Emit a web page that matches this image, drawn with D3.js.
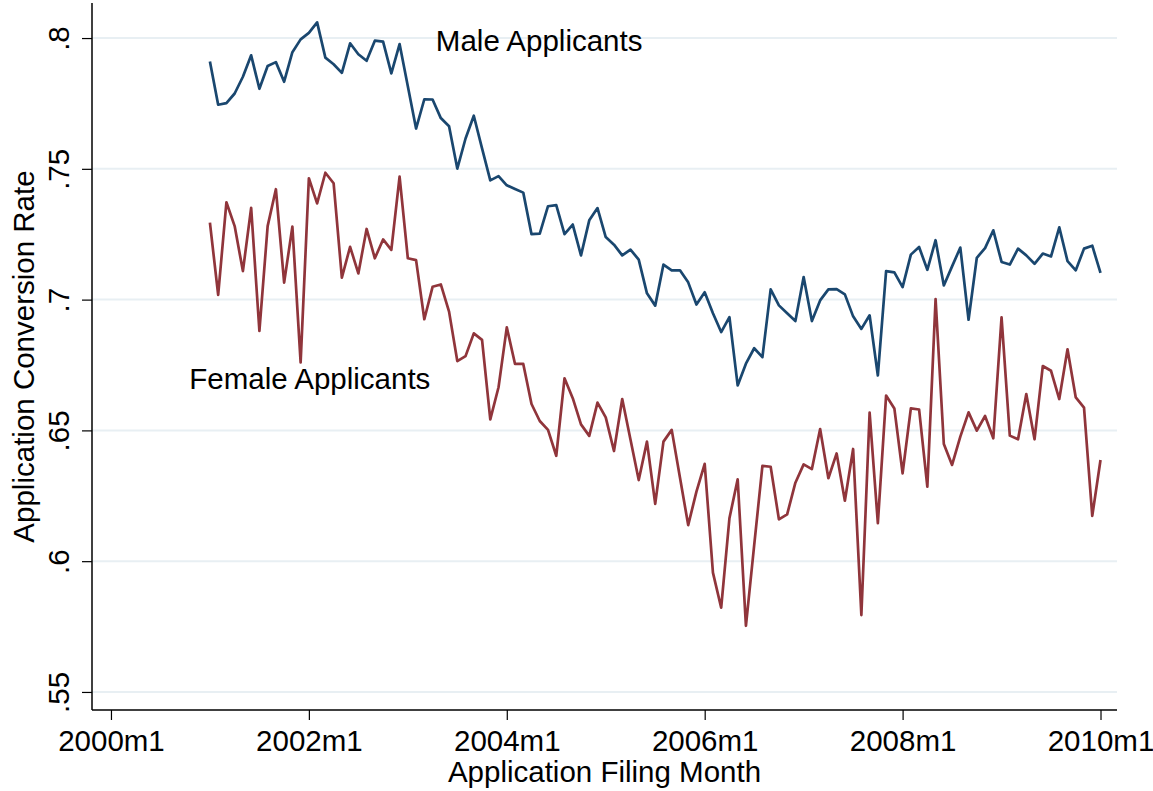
<!DOCTYPE html>
<html>
<head>
<meta charset="utf-8">
<script src="https://cdn.jsdelivr.net/npm/d3@7"></script>
<style>
  html, body { margin: 0; padding: 0; background: #fff; }
  svg { display: block; font-family: "Liberation Sans", Arial, Helvetica, sans-serif; }
</style>
</head>
<body>
<svg id="chart" width="1153" height="791"></svg>
<script>
// ---- data (monthly, 2001m1 .. 2010m1) ----
const firstMonthLabel = "2001m1";
const maleRate = [
  0.7910, 0.7745, 0.7751, 0.7788, 0.7852, 0.7934, 0.7806, 0.7893, 0.7908, 0.7833, 0.7946, 0.7995,
  0.8020, 0.8060, 0.7925, 0.7900, 0.7867, 0.7980, 0.7938, 0.7913, 0.7990, 0.7986, 0.7865, 0.7977,
  0.7816, 0.7654, 0.7766, 0.7765, 0.7694, 0.7663, 0.7501, 0.7616, 0.7703, 0.7578, 0.7456, 0.7472,
  0.7437, 0.7423, 0.7409, 0.7250, 0.7252, 0.7357, 0.7361, 0.7250, 0.7287, 0.7169, 0.7303, 0.7350,
  0.7239, 0.7210, 0.7169, 0.7191, 0.7153, 0.7024, 0.6977, 0.7134, 0.7112, 0.7112, 0.7066, 0.6981,
  0.7028, 0.6948, 0.6876, 0.6933, 0.6672, 0.6755, 0.6814, 0.6780, 0.7039, 0.6978, 0.6948, 0.6918,
  0.7086, 0.6918, 0.6997, 0.7039, 0.7040, 0.7020, 0.6936, 0.6888, 0.6940, 0.6710, 0.7109, 0.7104,
  0.7048, 0.7172, 0.7201, 0.7114, 0.7227, 0.7054, 0.7127, 0.7199, 0.6923, 0.7160, 0.7197, 0.7265,
  0.7144, 0.7134, 0.7195, 0.7169, 0.7137, 0.7176, 0.7165, 0.7276, 0.7147, 0.7112, 0.7195, 0.7206,
  0.7102
];
const femaleRate = [
  0.7294, 0.7018, 0.7372, 0.7281, 0.7109, 0.7351, 0.6880, 0.7281, 0.7422, 0.7065, 0.7279, 0.6760,
  0.7464, 0.7368, 0.7485, 0.7445, 0.7084, 0.7202, 0.7100, 0.7270, 0.7158, 0.7230, 0.7190, 0.7470,
  0.7158, 0.7151, 0.6925, 0.7049, 0.7058, 0.6954, 0.6765, 0.6784, 0.6871, 0.6846, 0.6542, 0.6665,
  0.6894, 0.6754, 0.6754, 0.6601, 0.6536, 0.6502, 0.6403, 0.6699, 0.6623, 0.6523, 0.6479, 0.6606,
  0.6550, 0.6421, 0.6620, 0.6465, 0.6310, 0.6457, 0.6219, 0.6457, 0.6502, 0.6320, 0.6138, 0.6266,
  0.6372, 0.5956, 0.5822, 0.6164, 0.6313, 0.5753, 0.6060, 0.6364, 0.6361, 0.6160, 0.6179, 0.6300,
  0.6370, 0.6352, 0.6505, 0.6317, 0.6412, 0.6231, 0.6429, 0.5794, 0.6568, 0.6145, 0.6633, 0.6584,
  0.6336, 0.6584, 0.6580, 0.6285, 0.7002, 0.6448, 0.6368, 0.6476, 0.6569, 0.6499, 0.6555, 0.6470,
  0.6932, 0.6480, 0.6466, 0.6639, 0.6466, 0.6746, 0.6728, 0.6620, 0.6810, 0.6626, 0.6587, 0.6173,
  0.6387
];
const xTickLabels = ["2000m1", "2002m1", "2004m1", "2006m1", "2008m1", "2010m1"];
const yTickValues = [0.55, 0.60, 0.65, 0.70, 0.75, 0.80];
const yTickLabels = [".55", ".6", ".65", ".7", ".75", ".8"];
const seriesNames = ["Male Applicants", "Female Applicants"];
// label anchor positions in data units: [months since 2000m1, rate]
const labelAnchors = [[39.4, 0.7950], [9.5, 0.6658]];

// ---- helpers ----
const parseMonth = s => { const [yy, mm] = s.split("m").map(Number); return (yy - 2000) * 12 + (mm - 1); };
const startIdx = parseMonth(firstMonthLabel);

const svg = d3.select("#chart");
const plotL = 92, plotR = 1117, plotT = 3, plotB = 710;

const x = d3.scaleLinear()
  .domain([-2.3, 122])
  .range([plotL, plotR]);
const y = d3.scaleLinear()
  .domain([0.5431, 0.8134])
  .range([plotB, plotT]);

const FONT = 29.5;

// gridlines
svg.append("g")
  .selectAll("line")
  .data(yTickValues)
  .join("line")
  .attr("x1", plotL).attr("x2", plotR)
  .attr("y1", d => y(d)).attr("y2", d => y(d))
  .attr("stroke", "#e8eff3").attr("stroke-width", 2);

// series
const lineGen = d3.line()
  .x((d, i) => x(startIdx + i))
  .y(d => y(d));

svg.append("path").datum(maleRate)
  .attr("d", lineGen).attr("fill", "none")
  .attr("stroke", "#1a476f").attr("stroke-width", 2.7).attr("stroke-linejoin", "round");
svg.append("path").datum(femaleRate)
  .attr("d", lineGen).attr("fill", "none")
  .attr("stroke", "#90353b").attr("stroke-width", 2.7).attr("stroke-linejoin", "round");

// x axis
const xAxis = d3.axisBottom(x)
  .tickValues(xTickLabels.map(parseMonth))
  .tickFormat((d, i) => xTickLabels[i])
  .tickSize(10).tickSizeOuter(0);
const gx = svg.append("g").attr("transform", `translate(0,${plotB})`).call(xAxis);
gx.attr("font-family", null).attr("font-size", null);
gx.select(".domain").attr("stroke", "#000").attr("stroke-width", 1.5).attr("d", `M${plotL},0H${plotR}`);
gx.selectAll(".tick line").attr("stroke", "#000").attr("stroke-width", 1.2);
gx.selectAll(".tick text")
  .attr("y", 41).attr("dy", 0)
  .attr("fill", "#000").style("font-size", FONT + "px");

// y axis
const yAxis = d3.axisLeft(y)
  .tickValues(yTickValues)
  .tickFormat((d, i) => yTickLabels[i])
  .tickSize(10).tickSizeOuter(0);
const gy = svg.append("g").attr("transform", `translate(${plotL},0)`).call(yAxis);
gy.attr("font-family", null).attr("font-size", null);
gy.select(".domain").attr("stroke", "#000").attr("stroke-width", 1.5).attr("d", `M0,${plotT}V${plotB}`);
gy.selectAll(".tick line").attr("stroke", "#000").attr("stroke-width", 1.2);
gy.selectAll(".tick text")
  .attr("transform", "rotate(-90)")
  .attr("x", 0).attr("y", -23).attr("dy", 0)
  .attr("text-anchor", "middle")
  .attr("fill", "#000").style("font-size", FONT + "px");

// axis titles
svg.append("text")
  .attr("x", (plotL + plotR) / 2).attr("y", 782)
  .attr("text-anchor", "middle").style("font-size", FONT + "px")
  .text("Application Filing Month");
svg.append("text")
  .attr("transform", `translate(34,${(plotT + plotB) / 2}) rotate(-90)`)
  .attr("text-anchor", "middle").style("font-size", FONT + "px")
  .text("Application Conversion Rate");

// series labels
svg.append("g")
  .selectAll("text")
  .data(seriesNames)
  .join("text")
  .attr("x", (d, i) => x(labelAnchors[i][0]))
  .attr("y", (d, i) => y(labelAnchors[i][1]))
  .style("font-size", FONT + "px")
  .text(d => d);
</script>
</body>
</html>
